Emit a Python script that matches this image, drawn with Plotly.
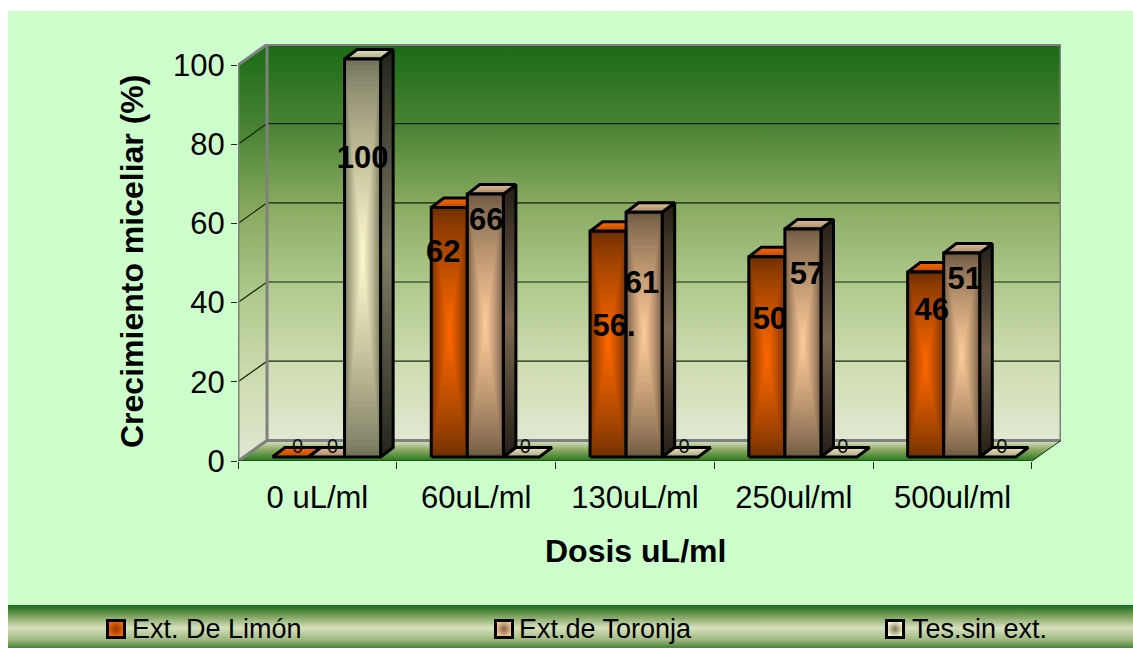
import plotly.graph_objects as go

# ---- data ----
categories = ["0 uL/ml", "60uL/ml", "130uL/ml", "250ul/ml", "500ul/ml"]
ext_limon = [0, 63.0, 57.0, 50.6, 46.7]
ext_toronja = [0, 66.4, 61.8, 57.6, 51.5]
tes_sin_ext = [100.5, 0, 0, 0, 0]
labels_limon = ["0", "62", "56.", "50", "46"]
labels_toronja = ["0", "66", "61", "57", "51"]
labels_tes = ["100", "0", "0", "0", "0"]
series_names = ["Ext. De Limón", "Ext.de Toronja", "Tes.sin ext."]
y_ticks = [0, 20, 40, 60, 80, 100]

# ---- style / layout ----
FONT = "Liberation Sans"
PAGE_W, PAGE_H = 1133, 648
def fx(px): return px / PAGE_W
def fy(py): return (PAGE_H - py) / PAGE_H

DX, DY = 0.1828, 5.2            # depth of the 3D walls, in axis units
BAR_OFF, BAR_W = 0.217, 0.227   # first bar offset / bar width in category units
BAR_DX, BAR_DY = 0.079, 2.4     # depth of a bar
BASE = 1.0                      # front of bars sits slightly above floor edge

STYLE = [
    dict(edge=(112, 48, 0), centre=(255, 104, 0), top=["#b84c00", "#ff6a00"],
         side=["#2a1400", "#7a3400", "#2a1400"], swatch="#ff6600", sw_edge="#8a3a00"),
    dict(edge=(112, 90, 68), centre=(255, 204, 153), top=["#a58a6c", "#e2bd96"],
         side=["#241e16", "#7c6750", "#241e16"], swatch="#ffcc99", sw_edge="#7c6248"),
    dict(edge=(116, 116, 92), centre=(255, 250, 205), top=["#a9a684", "#e8e4bb"],
         side=["#24241c", "#7e7c62", "#24241c"], swatch="#fffacd", sw_edge="#77775e"),
]
LABEL_Y = {"limon": [3.4, 52.2, 33.5, 35.3, 37.5],
           "toronja": [3.4, 60.3, 44.3, 46.6, 45.4],
           "tes": [75.9, 3.2, 3.2, 3.2, 3.2]}
LABEL_DX = {"limon": [0.044, -0.038, 0.038, 0.019, 0.038],
            "toronja": [0.038, 0.006, -0.013, 0.025, 0.019],
            "tes": [0.0, 0.025, 0.025, 0.025, 0.025]}

WALL = [[0, "#1a6b14"], [0.2, "#488232"], [0.4, "#87aa5f"], [0.6, "#afc88c"], [0.8, "#cddcaf"], [1, "#e1e8d2"]]
FLOOR = [[0, "#dce6c8"], [0.45, "#8caa64"], [1, "#28781e"]]
BAND = [[0, "#19691a"], [0.25, "#78a05a"], [0.53, "#d7e1be"], [0.8, "#a0b982"], [1, "#46823a"]]
GREY = "#808080"

fig = go.Figure()

def poly(xs, ys, fill=None, grad=None, line=None, width=0, xa="x", ya="y"):
    kw = dict(x=xs, y=ys, mode="lines", hoverinfo="skip", showlegend=False,
              cliponaxis=False, xaxis=xa, yaxis=ya)
    kw["line"] = dict(color=line or "rgba(0,0,0,0)", width=width)
    if grad:
        kw["fill"] = "toself"
        kw["fillgradient"] = grad
    elif fill:
        kw["fill"] = "toself"
        kw["fillcolor"] = fill
    fig.add_trace(go.Scatter(**kw))

def vgrad(scale, top, bottom):
    return dict(type="vertical", colorscale=scale, start=top, stop=bottom)

# legend band (subplot spanning the page width)
poly([0, 1, 1, 0, 0], [0, 0, 1, 1, 0], grad=vgrad(BAND, 1, 0), xa="x2", ya="y2")

# walls and floor
n = len(categories)
poly([DX, n + DX, n + DX, DX, DX], [DY, DY, 100 + DY, 100 + DY, DY], grad=vgrad(WALL, 100 + DY, DY))
poly([0, DX, DX, 0, 0], [0, DY, 100 + DY, 100, 0], grad=vgrad(WALL, 100 + DY, 0))
poly([0, DX, n + DX, n, 0], [0, DY, DY, 0, 0], grad=vgrad(FLOOR, DY, 0))

# gridlines on the walls
for t in y_ticks[1:-1]:
    poly([0, DX, n + DX], [t, t + DY, t + DY], line="#14240c", width=1.2)

# wall borders
poly([0, 0, DX, n + DX, n + DX, DX, 0], [0, 100, 100 + DY, 100 + DY, DY, DY, 0], line=GREY, width=3)
poly([DX, DX], [DY, 100 + DY], line=GREY, width=3)
poly([0, n, n + DX], [0, 0, DY], line="#14300c", width=1)

def draw_bar(x0, h, st):
    x1 = x0 + BAR_W
    y0, y1 = BASE, BASE + h
    if h > 0:
        poly([x1, x1 + BAR_DX, x1 + BAR_DX, x1, x1],
             [y0, y0 + BAR_DY, y1 + BAR_DY, y1, y0],
             grad=vgrad([[0, st["side"][0]], [0.5, st["side"][1]], [1, st["side"][2]]], y1 + BAR_DY, y0),
             line="#000000", width=3)
    poly([x0, x0 + BAR_DX, x1 + BAR_DX, x1, x0],
         [y1, y1 + BAR_DY, y1 + BAR_DY, y1, y1],
         grad=vgrad([[0, st["top"][1]], [1, st["top"][0]]], y1 + BAR_DY, y1),
         line="#000000", width=3)
    if h > 0:
        levels = 36
        for k in range(levels):
            t = k / (levels - 1)
            inset_x = 0.5 * t * BAR_W * 0.98
            inset_y = 0.5 * t * h * 0.98
            mix = t ** 0.8
            c = tuple(round(a + (b - a) * mix) for a, b in zip(st["edge"], st["centre"]))
            poly([x0 + inset_x, x1 - inset_x, x1 - inset_x, x0 + inset_x, x0 + inset_x],
                 [y0 + inset_y, y0 + inset_y, y1 - inset_y, y1 - inset_y, y0 + inset_y],
                 fill="rgb(%d,%d,%d)" % c)
        poly([x0, x1, x1, x0, x0], [y0, y0, y1, y1, y0], line="#000000", width=3)

series = [ext_limon, ext_toronja, tes_sin_ext]
for i in range(n):
    for s, vals in enumerate(series):
        draw_bar(i + BAR_OFF + s * BAR_W, vals[i], STYLE[s])

# data labels
keys = ["limon", "toronja", "tes"]
texts = [labels_limon, labels_toronja, labels_tes]
for s, key in enumerate(keys):
    for i in range(n):
        xc = i + BAR_OFF + (s + 0.5) * BAR_W + LABEL_DX[key][i]
        zero = series[s][i] == 0
        fig.add_trace(go.Scatter(
            x=[xc], y=[LABEL_Y[key][i]], mode="text", text=[texts[s][i]], hoverinfo="skip",
            showlegend=False, cliponaxis=False, textposition="middle center",
            textfont=dict(family=FONT, size=20 if zero else 31, color="#111111" if zero else "#000000",
                          weight="normal" if zero else "bold")))

# legend: one legend per series so each label sits at its own place in the band;
# the swatches are drawn larger in the band subplot (legend symbols are size-capped)
legend_ids = ["legend", "legend2", "legend3"]
legend_px = [92, 479, 872]
swatch_px = [116, 504, 895]
for s, name in enumerate(series_names):
    fig.add_trace(go.Scatter(
        x=[None], y=[None], mode="markers", name=name, hoverinfo="skip", legend=legend_ids[s],
        marker=dict(symbol="square", size=16, color="rgba(0,0,0,0)", line=dict(width=0))))
    fig.add_trace(go.Scatter(
        x=[(swatch_px[s] - 8) / (PAGE_W - 8)], y=[(648 - 629) / 43], mode="markers", xaxis="x2", yaxis="y2",
        hoverinfo="skip", showlegend=False, cliponaxis=False,
        marker=dict(symbol="square", size=17, color=STYLE[s]["swatch"],
                    gradient=dict(type="radial", color=STYLE[s]["sw_edge"]),
                    line=dict(color="#000000", width=3))))

def legend_at(px):
    return dict(x=fx(px), xanchor="left", y=fy(628), yanchor="middle", orientation="h",
                bgcolor="rgba(0,0,0,0)", borderwidth=0, font=dict(family=FONT, size=27),
                itemsizing="constant")

title_font = dict(family=FONT, size=32, color="#000000", weight="bold")
fig.update_layout(
    width=PAGE_W, height=PAGE_H, autosize=False,
    margin=dict(l=0, r=0, t=0, b=0, pad=0, autoexpand=False),
    paper_bgcolor="#FFFFFF", plot_bgcolor="rgba(0,0,0,0)",
    font=dict(family=FONT, color="#000000"),
    xaxis=dict(domain=[fx(238), fx(1061)], range=[0, n + DX],
               tickvals=[i + 0.5 for i in range(n)], ticktext=categories,
               ticks="outside", ticklen=9, tickcolor="rgba(0,0,0,0)",
               tickfont=dict(family=FONT, size=31), showgrid=False, zeroline=False, showline=False,
               minor=dict(tickmode="array", tickvals=list(range(n + 1)), ticks="outside",
                          ticklen=7, tickwidth=1, tickcolor="#222222", showgrid=False)),
    yaxis=dict(domain=[fy(461), fy(44)], range=[0, 417 / 3.96],
               tickvals=y_ticks, ticks="outside", ticklen=6, tickwidth=1, tickcolor="#222222",
               tickfont=dict(family=FONT, size=31), showgrid=False, zeroline=False, showline=False),
    xaxis2=dict(domain=[fx(8), 1], range=[0, 1], visible=False, anchor="y2"),
    yaxis2=dict(domain=[0, fy(605)], range=[0, 1], visible=False, anchor="x2"),
    legend=legend_at(legend_px[0]), legend2=legend_at(legend_px[1]), legend3=legend_at(legend_px[2]),
    shapes=[dict(type="rect", xref="paper", yref="paper", layer="below", line=dict(width=0), fillcolor="#CCFFCC",
                 x0=fx(8), x1=1, y0=0, y1=fy(11))],
    annotations=[
        dict(text="Dosis uL/ml", xref="paper", yref="paper", showarrow=False,
             x=fx(635), y=fy(551), xanchor="center", yanchor="middle", font=title_font),
        dict(text="Crecimiento miceliar (%)", xref="paper", yref="paper", showarrow=False, textangle=-90,
             x=fx(132), y=fy(262), xanchor="center", yanchor="middle", font=title_font),
    ],
)

fig.write_html("out.html", config={"displayModeBar": False},
               post_script="document.body.style.margin='0';document.documentElement.style.overflow='hidden';")
